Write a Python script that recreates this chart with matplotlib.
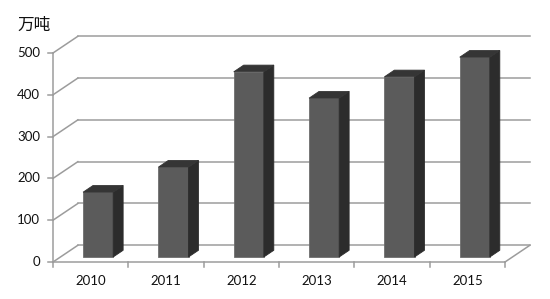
import matplotlib.pyplot as plt
from matplotlib.patches import Polygon

plt.rcParams['font.family'] = ['Lato', 'Noto Sans CJK SC', 'DejaVu Sans']

years = ['2010', '2011', '2012', '2013', '2014', '2015']
values = [155, 215, 443, 380, 431, 478]
yticks = [0, 100, 200, 300, 400, 500]
unit = '万吨'

# oblique depth of the floor / back wall (in data units)
dx = 0.33
dy = 40
grid_c = '#9c9c9c'

fig = plt.figure(figsize=(5.5, 2.99), dpi=100)
ax = fig.add_axes([53/550, 37/299, 452/550, 209/299])
ax.set_xlim(0, 6)
ax.set_ylim(0, 500)
ax.axis('off')

n = len(years)

# back wall gridlines + left diagonals
for v in yticks:
    ax.plot([dx, n + dx], [v + dy, v + dy], color=grid_c, lw=1.1, clip_on=False, zorder=1)
    ax.plot([0, dx], [v, v + dy], color=grid_c, lw=1.1, clip_on=False, zorder=1)
    ax.plot([-0.066, 0], [v, v], color=grid_c, lw=1.1, clip_on=False, zorder=1)
    ax.text(-0.17, v, str(v), ha='right', va='center', fontsize=9.5, color='#111111')

# front axis lines and floor
ax.plot([0, 0], [0, 500], color=grid_c, lw=1.1, clip_on=False, zorder=1)
ax.plot([0, n], [0, 0], color=grid_c, lw=1.1, clip_on=False, zorder=1)
ax.plot([n, n + dx], [0, dy], color=grid_c, lw=1.1, clip_on=False, zorder=1)
for i in range(n + 1):
    ax.plot([i, i], [0, -12], color=grid_c, lw=1.1, clip_on=False, zorder=1)

# 3d-looking bars
w = 0.4
f0, f1 = 0.3, 0.7
for i, v in enumerate(values):
    x0 = i + 0.5 - w / 2 + f0 * dx
    b = f0 * dy
    t = b + v
    ddx = (f1 - f0) * dx
    ddy = (f1 - f0) * dy
    front = [(x0, b), (x0 + w, b), (x0 + w, t), (x0, t)]
    side = [(x0 + w, b), (x0 + w + ddx, b + ddy), (x0 + w + ddx, t + ddy), (x0 + w, t)]
    top = [(x0, t), (x0 + w, t), (x0 + w + ddx, t + ddy), (x0 + ddx, t + ddy)]
    ax.add_patch(Polygon(front, closed=True, fc='#5b5b5b', ec='#6e6e6e', lw=0.6, zorder=3, clip_on=False))
    ax.add_patch(Polygon(side, closed=True, fc='#2c2c2c', ec='#2c2c2c', lw=0.6, zorder=3, clip_on=False))
    ax.add_patch(Polygon(top, closed=True, fc='#353535', ec='#353535', lw=0.6, zorder=3, clip_on=False))
    ax.text(i + 0.5, -45, years[i], ha='center', va='center', fontsize=9.5, color='#111111')

fig.text(17/550, 1 - 25/299, unit, ha='left', va='center', fontsize=12,
         family=['Noto Sans CJK SC', 'DejaVu Sans'], color='#111111')

fig.savefig('out.png', dpi=100)
